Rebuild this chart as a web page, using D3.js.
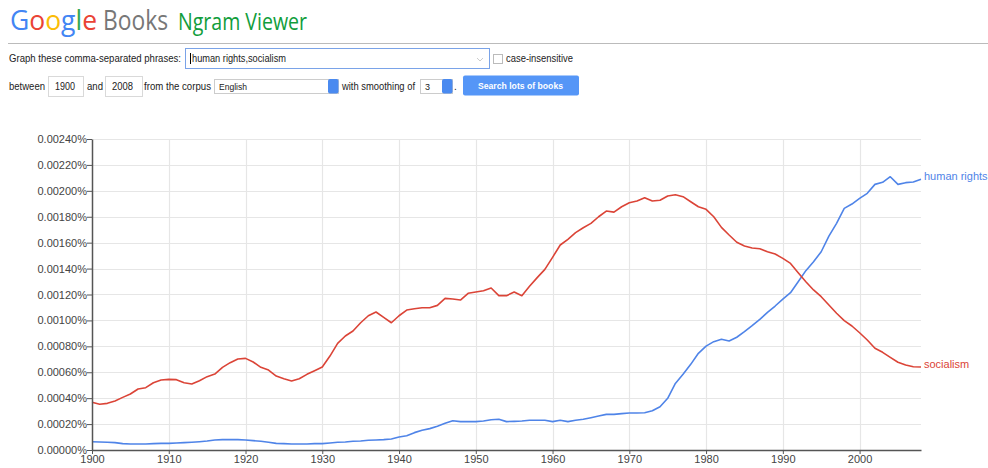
<!DOCTYPE html>
<html>
<head>
<meta charset="utf-8">
<script src="https://cdn.jsdelivr.net/npm/d3@7"></script>
<style>
  body { margin: 0; background: #fff; font-family: "Liberation Sans", Arial, sans-serif; }
  svg { display: block; }
</style>
</head>
<body>
<svg id="chart"></svg>
<script>
let years = d3.range(1900, 2009)

let humanRights = [
  0.000064, 0.000062, 0.000060, 0.000057, 0.000049, 0.000046, 0.000046, 0.000046, 0.000049, 0.000051,
  0.000051, 0.000054, 0.000057, 0.000060, 0.000064, 0.000069, 0.000077, 0.000080, 0.000080, 0.000080,
  0.000077, 0.000072, 0.000067, 0.000060, 0.000051, 0.000049, 0.000046, 0.000046, 0.000046, 0.000049,
  0.000049, 0.000054, 0.000060, 0.000062, 0.000067, 0.000069, 0.000075, 0.000077, 0.000080, 0.000085,
  0.000100, 0.000110, 0.000134, 0.000152, 0.000165, 0.000183, 0.000206, 0.000226, 0.000219, 0.000219,
  0.000219, 0.000224, 0.000234, 0.000237, 0.000219, 0.000221, 0.000224, 0.000229, 0.000230, 0.000229,
  0.000219, 0.000229, 0.000219, 0.000229, 0.000237, 0.000249, 0.000262, 0.000275, 0.000275, 0.000281,
  0.000286, 0.000286, 0.000288, 0.000303, 0.000334, 0.000399, 0.000514, 0.000584, 0.000661, 0.000746,
  0.000802, 0.000836, 0.000854, 0.000841, 0.000870, 0.000913, 0.000959, 0.001008, 0.001062, 0.001111,
  0.001165, 0.001214, 0.001299, 0.001384, 0.001453, 0.001530, 0.001651, 0.001749, 0.001865, 0.001898,
  0.001942, 0.001981, 0.002050, 0.002066, 0.002109, 0.002050, 0.002063, 0.002068, 0.002089
]

let socialism = [
  0.000368, 0.000353, 0.000360, 0.000378, 0.000406, 0.000432, 0.000471, 0.000481, 0.000519, 0.000540,
  0.000545, 0.000543, 0.000519, 0.000509, 0.000535, 0.000566, 0.000586, 0.000638, 0.000674, 0.000702,
  0.000707, 0.000679, 0.000638, 0.000617, 0.000571, 0.000550, 0.000532, 0.000550, 0.000584, 0.000612,
  0.000640, 0.000725, 0.000823, 0.000880, 0.000918, 0.000982, 0.001036, 0.001065, 0.001024, 0.000982,
  0.001036, 0.001080, 0.001090, 0.001098, 0.001098, 0.001116, 0.001170, 0.001165, 0.001157, 0.001209,
  0.001219, 0.001229, 0.001250, 0.001191, 0.001191, 0.001219, 0.001191, 0.001263, 0.001330, 0.001394,
  0.001487, 0.001582, 0.001626, 0.001677, 0.001715, 0.001749, 0.001800, 0.001844, 0.001836, 0.001877,
  0.001908, 0.001921, 0.001947, 0.001921, 0.001927, 0.001960, 0.001970, 0.001955, 0.001916, 0.001877,
  0.001857, 0.001800, 0.001718, 0.001659, 0.001603, 0.001574, 0.001559, 0.001553, 0.001530, 0.001512,
  0.001479, 0.001440, 0.001368, 0.001299, 0.001235, 0.001183, 0.001119, 0.001055, 0.000998, 0.000957,
  0.000905, 0.000849, 0.000785, 0.000754, 0.000715, 0.000677, 0.000656, 0.000643, 0.000640
]

let series = [
  { name: 'human rights', values: humanRights, color: '#4f84e8' },
  { name: 'socialism', values: socialism, color: '#db4437' }
]

let yTicks = d3.range(0, 0.0024001, 0.0002)
let xTicks = d3.range(1900, 2001, 10)

let w = 988
let h = 468
let padLeft = 92
let padRight = 921
let padTop = 139
let padBottom = 450

let svg = d3.select('#chart').attr('width', w).attr('height', h)

// header: fixed widths so the layout matches the screenshot
let fitText = (x, y, t, len, size, color) => svg.append('text')
  .attr('x', x).attr('y', y)
  .attr('font-size', size)
  .attr('fill', color)
  .attr('textLength', len)
  .attr('lengthAdjust', 'spacingAndGlyphs')
  .text(t)

let logo = svg.append('text')
  .attr('x', 10).attr('y', 30)
  .attr('font-family', 'Open Sans, sans-serif')
  .attr('font-size', 28)
  .attr('textLength', 87)
  .attr('lengthAdjust', 'spacingAndGlyphs')
let logoColors = ['#4285f4', '#ea4335', '#fbbc05', '#4285f4', '#34a853', '#ea4335']
'Google'.split('').forEach((c, i) => {
  logo.append('tspan').attr('fill', logoColors[i]).text(c)
})
fitText(103, 30, 'Books', 65, 28, '#777').attr('font-family', 'Open Sans, sans-serif')
fitText(178, 30, 'Ngram Viewer', 129, 23, '#109d3b').attr('font-family', 'Open Sans, sans-serif')

svg.append('line')
  .attr('x1', 8).attr('x2', w).attr('y1', 43.5).attr('y2', 43.5)
  .attr('stroke', '#bbb')

let box = (x, y, bw, bh, stroke) => svg.append('rect')
  .attr('x', x + 0.5).attr('y', y + 0.5)
  .attr('width', bw).attr('height', bh)
  .attr('fill', '#fff')
  .attr('stroke', stroke || '#d9d9d9')

fitText(9, 62, 'Graph these comma-separated phrases:', 172, 10, '#222')
box(185, 48, 304, 20, '#7aa3e8')
svg.append('line').attr('x1', 190.5).attr('x2', 190.5).attr('y1', 53).attr('y2', 64).attr('stroke', '#000')
fitText(192, 62, 'human rights,socialism', 94, 10, '#222')
svg.append('path').attr('d', 'M477,58 l3,3 l3,-3').attr('fill', 'none').attr('stroke', '#ccc')
box(493, 54, 9, 9, '#bbb')
fitText(506, 62, 'case-insensitive', 67, 10, '#222')

fitText(9, 90, 'between', 36, 10, '#222')
box(48, 76, 35, 20)
fitText(55, 90, '1900', 20, 10, '#222')
fitText(87, 90, 'and', 16, 10, '#222')
box(105, 76, 37, 20)
fitText(112, 90, '2008', 21, 10, '#222')
fitText(144, 90, 'from the corpus', 67, 10, '#222')
box(214, 79, 124, 14, '#ccc')
svg.append('rect').attr('x', 328).attr('y', 79).attr('width', 10.5).attr('height', 14.5).attr('rx', 2).attr('fill', '#4a8af0')
fitText(219, 89.5, 'English', 28, 9, '#222')
fitText(342, 90, 'with smoothing of', 73, 10, '#222')
box(420, 79, 32, 14, '#ccc')
svg.append('rect').attr('x', 442).attr('y', 79).attr('width', 10.5).attr('height', 14.5).attr('rx', 2).attr('fill', '#4a8af0')
svg.append('text').attr('x', 425).attr('y', 89.5).attr('font-size', 9).attr('fill', '#222').text('3')
svg.append('text').attr('x', 454).attr('y', 90).attr('font-size', 10).attr('fill', '#222').text('.')
svg.append('rect').attr('x', 463).attr('y', 75.5).attr('width', 116).attr('height', 20).attr('rx', 2).attr('fill', '#5596f7')
fitText(478, 89, 'Search lots of books', 85, 9, '#fff').attr('font-weight', 'bold')

// chart
let x = d3.scaleLinear().domain([1900, 2008]).range([padLeft, padRight])
let y = d3.scaleLinear().domain([0, 0.0024]).range([padBottom, padTop])

let grid = svg.append('g')
grid.selectAll('.hg').data(yTicks.slice(1)).enter().append('line')
  .attr('x1', padLeft).attr('x2', padRight)
  .attr('y1', d => Math.round(y(d)) + 0.5).attr('y2', d => Math.round(y(d)) + 0.5)
  .attr('stroke', '#e6e6e6').attr('stroke-width', 1.2)
grid.selectAll('.vg').data(xTicks.slice(1)).enter().append('line')
  .attr('x1', d => Math.round(x(d)) + 0.5).attr('x2', d => Math.round(x(d)) + 0.5)
  .attr('y1', padTop).attr('y2', padBottom)
  .attr('stroke', '#e6e6e6').attr('stroke-width', 1.2)

let line = d3.line().x((d, i) => x(years[i])).y(d => y(d))

series.forEach(s => {
  svg.append('path')
    .datum(s.values)
    .attr('d', line)
    .attr('fill', 'none')
    .attr('stroke', s.color)
    .attr('stroke-width', 1.6)
    .attr('stroke-linejoin', 'round')
  svg.append('text')
    .attr('x', x(2008) + 3)
    .attr('y', y(s.values[s.values.length - 1]) + 1)
    .attr('font-size', 11)
    .attr('fill', s.color)
    .text(s.name)
})

let yAxis = d3.axisLeft(y).tickValues(yTicks).tickSize(5).tickSizeOuter(0)
  .tickFormat(d => d3.format('.5f')(d) + '%')
let gy = svg.append('g').attr('transform', 'translate(' + padLeft + ',0)').call(yAxis)
gy.select('.domain').attr('stroke', '#555').attr('stroke-width', 1.5)
gy.selectAll('.tick line').attr('stroke', '#555')
gy.selectAll('.tick text').attr('font-size', 11).attr('fill', '#444')
  .attr('font-family', 'Liberation Sans, Arial, sans-serif').attr('x', -5)

let xAxis = d3.axisBottom(x).tickValues(xTicks).tickSize(4).tickSizeOuter(0).tickFormat(d3.format('d'))
let gx = svg.append('g').attr('transform', 'translate(0,' + padBottom + ')').call(xAxis)
gx.select('.domain').attr('stroke', '#555').attr('stroke-width', 1.5)
gx.selectAll('.tick line').attr('stroke', '#555')
gx.selectAll('.tick text').attr('font-size', 11).attr('fill', '#444')
  .attr('font-family', 'Liberation Sans, Arial, sans-serif').attr('dy', '0.55em')
</script>
</body>
</html>
